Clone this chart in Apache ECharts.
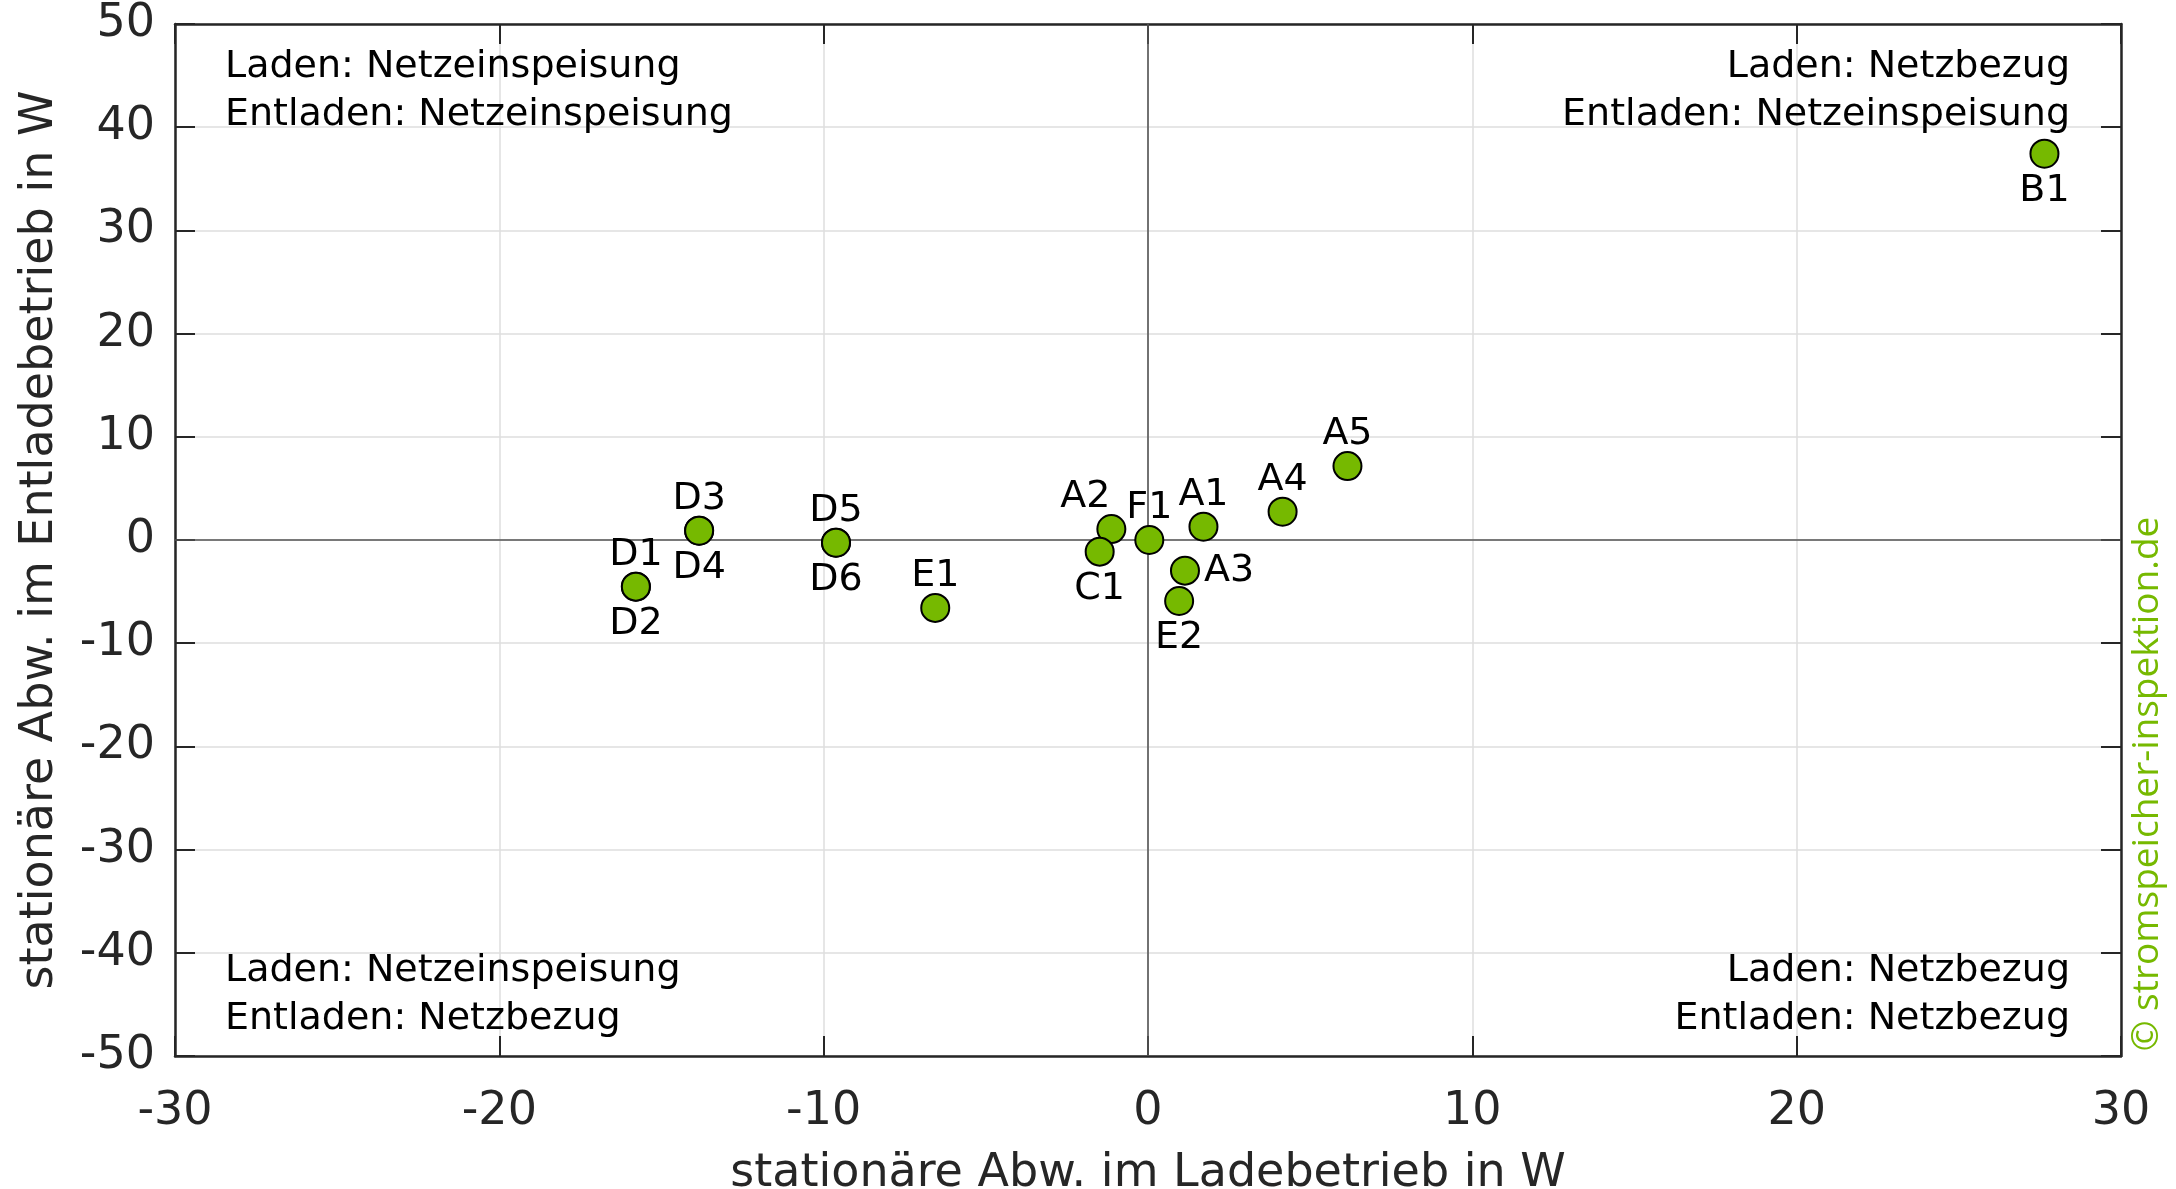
<!DOCTYPE html>
<html>
<head>
<meta charset="utf-8">
<script src="https://cdn.jsdelivr.net/npm/echarts@6/dist/echarts.min.js"></script>
<style>
html,body{margin:0;padding:0;background:#fff;}
#chart{width:2176px;height:1189px;}
</style>
</head>
<body>
<div id="chart"></div>
<script>
// ---- data ----
const names  = ['B1','A5','A4','A1','F1','A2','C1','A3','E2','E1','D5','D6','D3','D4','D1','D2'];
const xVals  = [27.64, 6.15, 4.15, 1.71, 0.04, -1.13, -1.49, 1.14, 0.96, -6.56, -9.62, -9.62, -13.84, -13.84, -15.79, -15.79];
const yVals  = [37.43, 7.16, 2.74, 1.29, 0.0, 1.06, -1.13, -2.97, -5.91, -6.58, -0.26, -0.26, 0.90, 0.90, -4.52, -4.52];
const labelPos = ['bottom','top','top','top','top','topLeft','bottom','right','bottom','top','top','bottom','top','bottom','top','bottom'];
const xTicks = [-30, -20, -10, 0, 10, 20, 30];
const yTicks = [-50, -40, -30, -20, -10, 0, 10, 20, 30, 40, 50];
const xTitle = 'stationäre Abw. im Ladebetrieb in W';
const yTitle = 'stationäre Abw. im Entladebetrieb in W';
const cornerTL = ['Laden: Netzeinspeisung', 'Entladen: Netzeinspeisung'];
const cornerTR = ['Laden: Netzbezug', 'Entladen: Netzeinspeisung'];
const cornerBL = ['Laden: Netzeinspeisung', 'Entladen: Netzbezug'];
const cornerBR = ['Laden: Netzbezug', 'Entladen: Netzbezug'];
const watermark = '© stromspeicher-inspektion.de';

// ---- styling ----
const FONT = 'DejaVu Sans';
const axisColor = '#262626';
const green = '#76b900';

const chart = echarts.init(document.getElementById('chart'), null, {renderer: 'canvas'});

function labelFor(pos) {
  const base = {show: true, formatter: '{b}', fontFamily: FONT, fontSize: 38, color: '#000'};
  if (pos === 'topLeft') return Object.assign(base, {position: 'top', distance: -2, offset: [-26, 0]});
  if (pos === 'right') return Object.assign(base, {position: 'right', distance: 4});
  if (pos === 'top') return Object.assign(base, {position: 'top', distance: -2});
  return Object.assign(base, {position: pos, distance: 3});
}

const points = names.map((n, i) => ({
  name: n,
  value: [xVals[i], yVals[i]],
  label: labelFor(labelPos[i])
}));

const xMin = xTicks[0], xMax = xTicks[xTicks.length - 1];
const yMin = yTicks[0], yMax = yTicks[yTicks.length - 1];

const commonTick = {show: true, inside: true, length: 20, lineStyle: {color: axisColor, width: 2}};
const commonLine = {show: true, onZero: false, lineStyle: {color: axisColor, width: 2.5}};
const cornerFont = '38px "DejaVu Sans"';

const option = {
  backgroundColor: '#fff',
  animation: false,
  grid: {left: 175, right: 55, top: 24, bottom: 133, containLabel: false, outerBoundsMode: 'none'},
  xAxis: [
    {
      type: 'value', min: xMin, max: xMax, interval: 10, position: 'bottom',
      name: xTitle, nameLocation: 'middle', nameGap: 95,
      nameTextStyle: {fontFamily: FONT, fontSize: 46, color: axisColor},
      axisLine: commonLine, axisTick: commonTick,
      axisLabel: {show: true, margin: 33, fontFamily: FONT, fontSize: 46, color: axisColor},
      splitLine: {show: true, lineStyle: {color: '#dedede', width: 1.5}}
    },
    {
      type: 'value', min: xMin, max: xMax, interval: 10, position: 'top',
      axisLine: commonLine, axisTick: commonTick,
      axisLabel: {show: false}, splitLine: {show: false}
    }
  ],
  yAxis: [
    {
      type: 'value', min: yMin, max: yMax, interval: 10, position: 'left',
      name: yTitle, nameLocation: 'middle', nameGap: 112,
      nameTextStyle: {fontFamily: FONT, fontSize: 46, color: axisColor},
      axisLine: commonLine, axisTick: commonTick,
      axisLabel: {show: true, margin: 20, fontFamily: FONT, fontSize: 46, color: axisColor},
      splitLine: {show: true, lineStyle: {color: '#dedede', width: 1.5}}
    },
    {
      type: 'value', min: yMin, max: yMax, interval: 10, position: 'right',
      axisLine: commonLine, axisTick: commonTick,
      axisLabel: {show: false}, splitLine: {show: false}
    }
  ],
  series: [
    {
      type: 'scatter', data: [], z: 1, silent: true,
      markLine: {
        silent: true, symbol: 'none', animation: false,
        label: {show: false},
        lineStyle: {color: '#555', width: 1.6, type: 'solid'},
        data: [{xAxis: 0}, {yAxis: 0}]
      }
    },
    {
      type: 'scatter', z: 5,
      symbol: 'circle', symbolSize: 28,
      itemStyle: {color: green, borderColor: '#000', borderWidth: 2, opacity: 1},
      data: points
    }
  ],
  graphic: [
    {type: 'text', left: 225, top: 43, z: 10,
      style: {text: cornerTL.join('\n'), font: cornerFont, fill: '#000', lineHeight: 48, textAlign: 'left'}},
    {type: 'text', right: 106, top: 43, z: 10,
      style: {text: cornerTR.join('\n'), font: cornerFont, fill: '#000', lineHeight: 48, textAlign: 'right'}},
    {type: 'text', left: 225, top: 947, z: 10,
      style: {text: cornerBL.join('\n'), font: cornerFont, fill: '#000', lineHeight: 48, textAlign: 'left'}},
    {type: 'text', right: 106, top: 947, z: 10,
      style: {text: cornerBR.join('\n'), font: cornerFont, fill: '#000', lineHeight: 48, textAlign: 'right'}},
    {type: 'text', x: 2147, y: 784, rotation: Math.PI / 2, z: 10,
      style: {text: watermark, font: '37px "Open Sans"', fill: green, textAlign: 'center', textVerticalAlign: 'middle'}}
  ]
};

chart.setOption(option);
</script>
</body>
</html>
